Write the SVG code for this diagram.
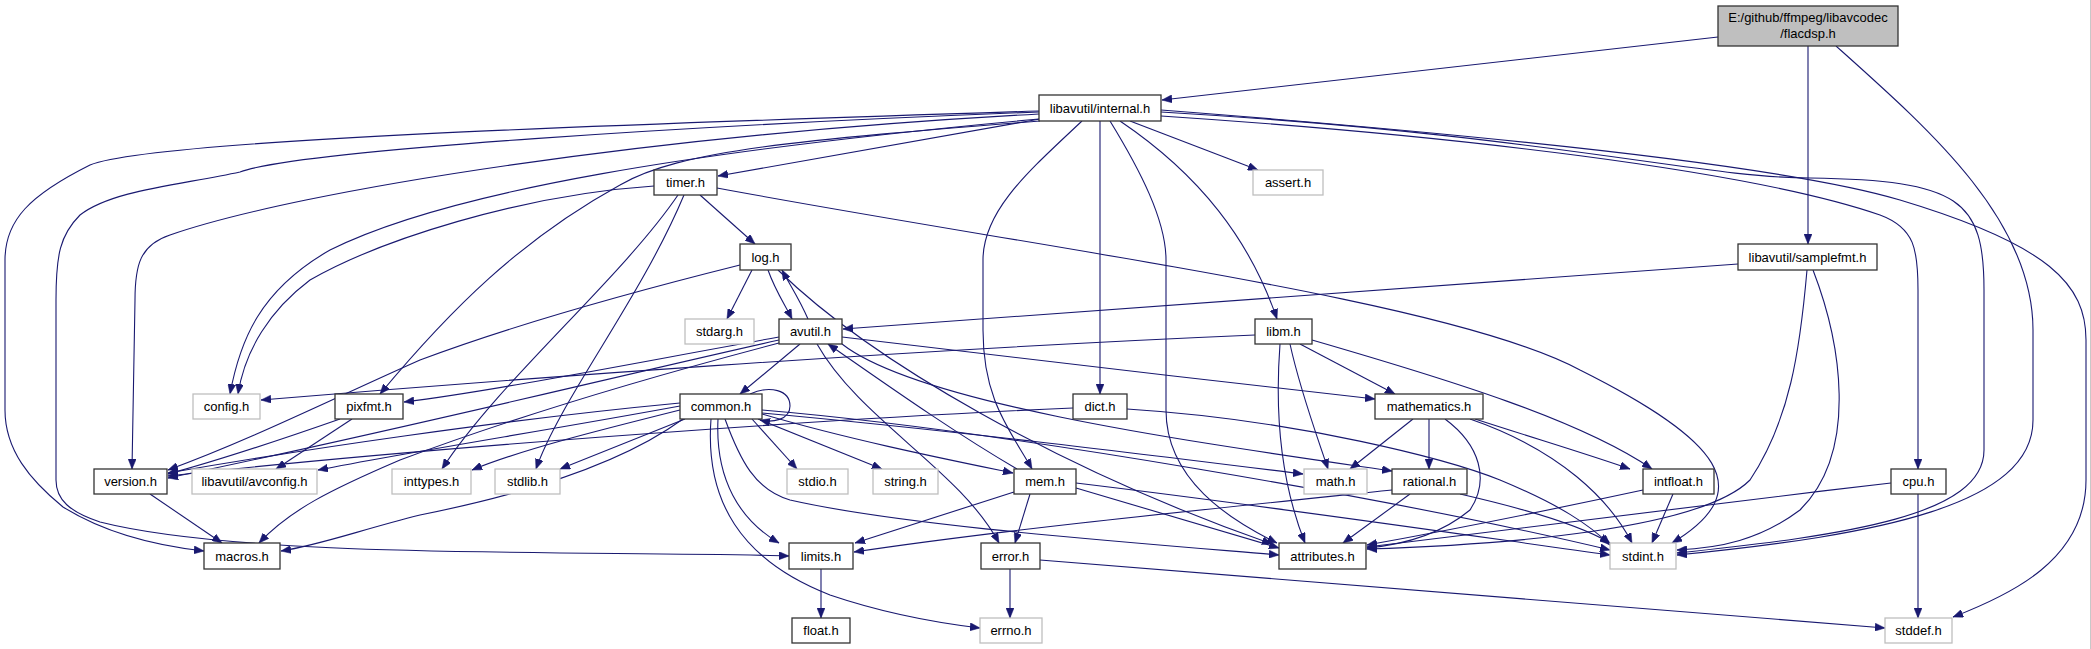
<svg xmlns="http://www.w3.org/2000/svg" width="2091" height="649" viewBox="0 0 2091 649">
<style>
.n rect{fill:#ffffff;stroke:#333333;stroke-width:1.3}
.g rect{fill:#ffffff;stroke:#bfbfbf;stroke-width:1.3}
.r rect{fill:#bfbfbf;stroke:#333333;stroke-width:1.3}
text{font-family:"Liberation Sans",Arial,sans-serif;font-size:13px;fill:#000000;text-anchor:middle}
#edges path{fill:none;stroke:#191970;stroke-width:1.1;marker-end:url(#a)}
</style>
<defs>
<marker id="a" markerWidth="11" markerHeight="8" refX="10" refY="4" orient="auto" markerUnits="userSpaceOnUse"><path d="M0,0 L10,4 L0,8 z" fill="#191970" stroke="#191970" stroke-width="0.5"/></marker>
</defs>
<rect x="0" y="0" width="2091" height="649" fill="#ffffff"/>
<line x1="2090.5" y1="0" x2="2090.5" y2="649" stroke="#c8c8c8" stroke-width="1"/>
<g id="edges">
<path d="M1718,37 L1162,100"/>
<path d="M1808,46 L1808,244"/>
<path d="M1836,46 C1930,130 2033,220 2033,330 L2033,420 C2033,505 1880,535 1677,555"/>
<path d="M1040,119 L718,176"/>
<path d="M1161,116 C1450,135 1750,170 1880,215 C1915,228 1918,250 1918,290 L1918,469"/>
<path d="M1161,112 C1550,135 1700,178 1810,178 C1960,180 1984,200 1984,290 L1984,450 C1984,515 1850,535 1677,553"/>
<path d="M1161,110 C1550,140 1800,170 1900,200 C2050,245 2086,285 2086,340 L2086,480 C2086,560 2010,595 1953,617"/>
<path d="M1130,121 L1258,170"/>
<path d="M1120,121 C1200,175 1250,240 1277,319"/>
<path d="M1110,121 C1140,170 1166,220 1166,260 L1166,410 C1166,480 1230,520 1277,543"/>
<path d="M1100,121 L1100,394"/>
<path d="M1082,121 C1030,170 983,210 983,260 L983,330 C983,400 1010,430 1032,469"/>
<path d="M1039,114 C650,135 300,190 170,235 C140,245 135,265 135,300 L132,469"/>
<path d="M1039,112 C700,125 300,150 240,172 C180,185 112,190 80,215 C60,235 56,255 56,300 L56,480 C56,500 70,512 100,522 C250,560 600,550 789,556"/>
<path d="M1039,111 C600,125 150,140 90,165 C30,195 5,220 5,260 L5,410 C5,450 30,480 63,507 C100,530 150,545 204,551"/>
<path d="M1039,119 C700,150 450,190 330,250 C260,290 240,340 230,394"/>
<path d="M1040,121 C800,140 680,150 620,185 C520,240 450,310 380,394"/>
<path d="M654,186 C520,195 380,240 310,280 C270,310 245,350 238,394"/>
<path d="M700,195 L755,244"/>
<path d="M678,195 C620,280 500,380 442,469"/>
<path d="M684,195 C640,300 560,400 536,469"/>
<path d="M717,188 C1050,250 1450,300 1580,370 C1720,440 1760,490 1672,543"/>
<path d="M752,270 L727,319"/>
<path d="M768,270 C775,290 785,305 792,319"/>
<path d="M808,319 C800,300 790,285 782,270"/>
<path d="M740,265 C600,300 500,330 420,360 C330,400 250,440 168,470"/>
<path d="M778,270 C870,360 1060,470 1272,544"/>
<path d="M1738,264 L843,329"/>
<path d="M1807,270 C1800,350 1790,420 1750,480 C1700,530 1500,545 1367,549"/>
<path d="M1813,270 C1840,340 1860,450 1800,510 C1760,540 1720,548 1677,550"/>
<path d="M800,344 L740,394"/>
<path d="M817,344 C860,420 960,470 999,543"/>
<path d="M842,344 C920,405 1200,443 1392,471"/>
<path d="M842,337 C1000,355 1200,380 1375,399"/>
<path d="M779,340 C600,380 400,430 168,478"/>
<path d="M779,337 C650,360 500,390 404,402"/>
<path d="M779,343 C600,390 480,430 400,460 C330,490 290,510 259,543"/>
<path d="M1255,335 C900,350 500,380 261,400"/>
<path d="M1290,344 C1300,390 1315,430 1328,469"/>
<path d="M1280,344 C1275,410 1280,480 1305,543"/>
<path d="M1300,344 L1395,394"/>
<path d="M1312,340 C1450,380 1580,420 1652,469"/>
<path d="M1413,419 L1350,469"/>
<path d="M1429,419 L1429,469"/>
<path d="M1445,419 C1480,445 1490,480 1470,510 C1440,535 1400,545 1367,548"/>
<path d="M1470,419 C1560,450 1610,500 1632,543"/>
<path d="M1475,419 C1540,440 1590,455 1630,469"/>
<path d="M1392,490 C1200,510 1000,530 854,552"/>
<path d="M1410,494 L1343,543"/>
<path d="M1460,494 C1530,510 1580,525 1610,543"/>
<path d="M1673,494 L1652,543"/>
<path d="M1643,490 C1550,510 1450,530 1367,545"/>
<path d="M1891,483 C1700,505 1500,530 1367,547"/>
<path d="M1918,494 L1918,618"/>
<path d="M752,419 L797,469"/>
<path d="M758,419 L882,469"/>
<path d="M762,414 C850,440 950,460 1013,473"/>
<path d="M762,413 C950,430 1150,455 1303,474"/>
<path d="M762,410 C1000,430 1400,500 1610,550"/>
<path d="M1127,409 C1300,420 1450,460 1500,480 C1560,505 1590,525 1610,545"/>
<path d="M1076,483 C1300,510 1500,540 1610,555"/>
<path d="M1076,488 C1150,510 1220,530 1279,548"/>
<path d="M1014,492 L855,543"/>
<path d="M1030,494 L1015,543"/>
<path d="M1017,469 C950,430 880,380 828,344"/>
<path d="M725,419 C740,460 755,490 790,500 C900,525 1100,540 1279,555"/>
<path d="M711,419 C705,500 740,560 830,595 C880,612 930,622 980,628"/>
<path d="M718,419 C715,480 740,520 779,543"/>
<path d="M683,419 C620,465 520,495 420,515 C360,530 320,545 281,551"/>
<path d="M680,410 C600,430 520,450 472,470"/>
<path d="M685,419 L560,469"/>
<path d="M680,406 C550,430 420,450 318,470"/>
<path d="M680,403 C500,420 300,450 168,473"/>
<path d="M750,394 C770,385 790,390 790,406 C790,420 772,423 760,420"/>
<path d="M1073,408 C800,420 400,450 168,476"/>
<path d="M340,419 C280,440 220,460 168,474"/>
<path d="M352,419 L276,469"/>
<path d="M150,494 L222,543"/>
<path d="M821,569 L821,618"/>
<path d="M1010,569 L1010,618"/>
<path d="M1040,560 L1885,628"/>
</g>
<g id="flacdsp" class="r"><rect x="1718" y="6" width="180" height="40"/><text x="1808" y="22">E:/github/ffmpeg/libavcodec</text><text x="1808" y="38">/flacdsp.h</text></g>
<g id="internal" class="n"><rect x="1039" y="95" width="122" height="26"/><text x="1100" y="113">libavutil/internal.h</text></g>
<g id="timer" class="n"><rect x="654" y="170" width="63" height="25"/><text x="685.5" y="187">timer.h</text></g>
<g id="assert" class="g"><rect x="1253" y="170" width="70" height="25"/><text x="1288" y="187">assert.h</text></g>
<g id="log" class="n"><rect x="740" y="244" width="51" height="26"/><text x="765.5" y="262">log.h</text></g>
<g id="samplefmt" class="n"><rect x="1738" y="244" width="139" height="26"/><text x="1807.5" y="262">libavutil/samplefmt.h</text></g>
<g id="stdarg" class="g"><rect x="685" y="319" width="69" height="25"/><text x="719.5" y="336">stdarg.h</text></g>
<g id="avutil" class="n"><rect x="779" y="319" width="63" height="25"/><text x="810.5" y="336">avutil.h</text></g>
<g id="libm" class="n"><rect x="1255" y="319" width="57" height="25"/><text x="1283.5" y="336">libm.h</text></g>
<g id="config" class="g"><rect x="193" y="394" width="67" height="25"/><text x="226.5" y="411">config.h</text></g>
<g id="pixfmt" class="n"><rect x="335" y="394" width="68" height="25"/><text x="369" y="411">pixfmt.h</text></g>
<g id="common" class="n"><rect x="680" y="394" width="82" height="25"/><text x="721" y="411">common.h</text></g>
<g id="dict" class="n"><rect x="1073" y="394" width="54" height="25"/><text x="1100" y="411">dict.h</text></g>
<g id="mathematics" class="n"><rect x="1375" y="394" width="108" height="25"/><text x="1429" y="411">mathematics.h</text></g>
<g id="version" class="n"><rect x="94" y="469" width="73" height="25"/><text x="130.5" y="486">version.h</text></g>
<g id="avconfig" class="g"><rect x="192" y="469" width="125" height="25"/><text x="254.5" y="486">libavutil/avconfig.h</text></g>
<g id="inttypes" class="g"><rect x="392" y="469" width="79" height="25"/><text x="431.5" y="486">inttypes.h</text></g>
<g id="stdlib" class="g"><rect x="495" y="469" width="65" height="25"/><text x="527.5" y="486">stdlib.h</text></g>
<g id="stdio" class="g"><rect x="787" y="469" width="61" height="25"/><text x="817.5" y="486">stdio.h</text></g>
<g id="string" class="g"><rect x="873" y="469" width="65" height="25"/><text x="905.5" y="486">string.h</text></g>
<g id="mem" class="n"><rect x="1014" y="469" width="62" height="25"/><text x="1045" y="486">mem.h</text></g>
<g id="math" class="g"><rect x="1304" y="469" width="63" height="25"/><text x="1335.5" y="486">math.h</text></g>
<g id="rational" class="n"><rect x="1392" y="469" width="75" height="25"/><text x="1429.5" y="486">rational.h</text></g>
<g id="intfloat" class="n"><rect x="1643" y="469" width="71" height="25"/><text x="1678.5" y="486">intfloat.h</text></g>
<g id="cpu" class="n"><rect x="1891" y="469" width="55" height="25"/><text x="1918.5" y="486">cpu.h</text></g>
<g id="macros" class="n"><rect x="204" y="543" width="76" height="26"/><text x="242" y="561">macros.h</text></g>
<g id="limits" class="n"><rect x="789" y="543" width="64" height="26"/><text x="821" y="561">limits.h</text></g>
<g id="error" class="n"><rect x="981" y="543" width="59" height="26"/><text x="1010.5" y="561">error.h</text></g>
<g id="attributes" class="n"><rect x="1279" y="543" width="87" height="26"/><text x="1322.5" y="561">attributes.h</text></g>
<g id="stdint" class="g"><rect x="1610" y="543" width="66" height="26"/><text x="1643" y="561">stdint.h</text></g>
<g id="float" class="n"><rect x="792" y="618" width="58" height="25"/><text x="821" y="635">float.h</text></g>
<g id="errno" class="g"><rect x="980" y="618" width="62" height="25"/><text x="1011" y="635">errno.h</text></g>
<g id="stddef" class="g"><rect x="1885" y="618" width="67" height="25"/><text x="1918.5" y="635">stddef.h</text></g>
</svg>
